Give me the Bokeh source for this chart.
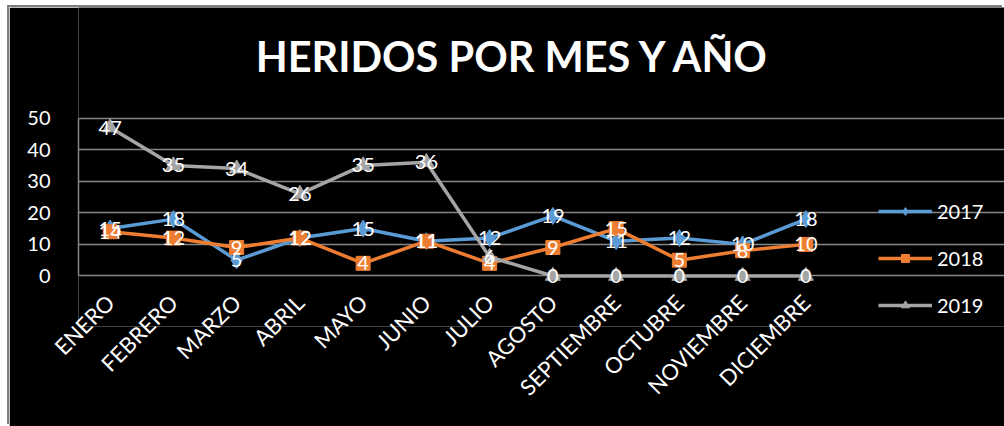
import math
from bokeh.plotting import figure
from bokeh.models import ColumnDataSource, Range1d, FixedTicker, Legend, LegendItem, Label
from bokeh.core.properties import value
from bokeh.embed import file_html
from bokeh.resources import INLINE

meses = ["ENERO", "FEBRERO", "MARZO", "ABRIL", "MAYO", "JUNIO", "JULIO",
         "AGOSTO", "SEPTIEMBRE", "OCTUBRE", "NOVIEMBRE", "DICIEMBRE"]
y2017 = [15, 18, 5, 12, 15, 11, 12, 19, 11, 12, 10, 18]
y2018 = [14, 12, 9, 12, 4, 11, 4, 9, 15, 5, 8, 10]
y2019 = [47, 35, 34, 26, 35, 36, 6, 0, 0, 0, 0, 0]
series_names = ["2017", "2018", "2019"]
y_ticks = [0, 10, 20, 30, 40, 50]
titulo = "HERIDOS POR MES Y AÑO"

FONT = "Lato"
colors = ["#5B9BD5", "#ED7D31", "#A5A5A5"]
markers = ["diamond", "square", "triangle"]
msizes = [17, 14, 15]

n = len(meses)
x_pos = [i + 0.5 for i in range(n)]  # category centres on the axis

p = figure(width=995, height=419, x_range=Range1d(0, 14.64),
           y_range=Range1d(-16, 85), output_backend="svg", toolbar_location=None,
           title=None,
           background_fill_color="black", border_fill_color="black",
           min_border_left=69, min_border_right=0, min_border_top=0, min_border_bottom=100)
p.margin = (7, 0, 0, 9)
p.styles = {"box-shadow": "-2px -2px 0 #7f7f7f"}
p.outline_line_color = None

p.xgrid.visible = False
p.ygrid.grid_line_color = "#868686"
p.ygrid.grid_line_width = 1.5
p.ygrid.bounds = (0, n)
p.yaxis.ticker = FixedTicker(ticks=y_ticks)
p.yaxis.bounds = (0, 50)
p.xaxis.ticker = FixedTicker(ticks=x_pos)
p.xaxis.major_label_overrides = {x: m for x, m in zip(x_pos, meses)}
for ax in (p.xaxis[0], p.yaxis[0]):
    ax.axis_line_color = "#868686"
    ax.axis_line_width = 1.5
    ax.major_tick_line_color = None
    ax.minor_tick_line_color = None
    ax.major_tick_out = 0
    ax.major_tick_in = 0
    ax.major_label_text_color = "white"
    ax.major_label_text_font = FONT
p.xaxis.axis_line_color = None
p.yaxis.major_label_text_font_size = "20px"
p.yaxis.major_label_standoff = 28
p.xaxis.major_label_text_font_size = "22px"
p.xaxis.major_label_orientation = math.pi / 4
p.xaxis.major_label_standoff = -28

items = []
for name, vals, c, m, s in zip(series_names, [y2017, y2018, y2019], colors, markers, msizes):
    src = ColumnDataSource(dict(x=x_pos, y=vals, t=[str(v) for v in vals]))
    ln = p.line("x", "y", source=src, line_color=c, line_width=3.5)
    sc = p.scatter("x", "y", source=src, marker=m, size=s, fill_color=c, line_color=c)
    items.append(LegendItem(label=name, renderers=[ln, sc]))

for vals in [y2017, y2018, y2019]:
    src = ColumnDataSource(dict(x=x_pos, y=vals, t=[str(v) for v in vals]))
    p.text("x", "y", text="t", source=src, text_color="white", text_font=value(FONT),
           text_font_size="20px", text_align="center", text_baseline="middle")

p.add_layout(Label(x=6.88, y=69.5, text=titulo, text_color="white", text_font=FONT,
                   text_font_style="bold", text_font_size="41.5px",
                   text_align="center", text_baseline="alphabetic"))

legend = Legend(items=items, location=(800, 9), border_line_color=None,
                background_fill_alpha=0, label_text_color="white",
                label_text_font=FONT, label_text_font_size="20px",
                glyph_width=54, glyph_height=20, label_height=20, spacing=23,
                label_standoff=5, padding=0, margin=0)
p.add_layout(legend)

open("out.html", "w").write(file_html(p, INLINE))
